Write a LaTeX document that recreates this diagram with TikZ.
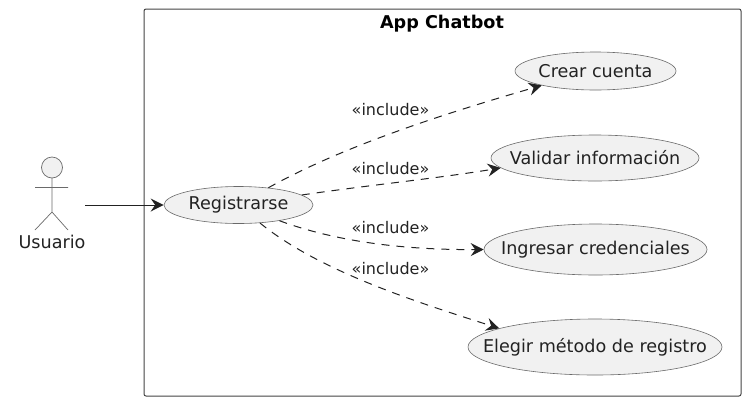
\documentclass[tikz,border=0pt]{standalone}
\usepackage{fontspec}
\setmainfont{DejaVu Sans}
\usepackage{xcolor}
\usetikzlibrary{arrows.meta,shapes.geometric}
\definecolor{usecasefill}{HTML}{F1F1F1}
\definecolor{linegray}{HTML}{6A6A6A}
\definecolor{textgray}{HTML}{222222}
\tikzset{
  usecase/.style={ellipse,draw=linegray,fill=usecasefill,line width=0.6pt,inner sep=0pt},
  usecasetext/.style={inner sep=0pt,text=textgray,font=\fontsize{17.6}{20}\selectfont},
  stereotype/.style={inner sep=0pt,text=textgray,font=\fontsize{16}{19}\selectfont},
  actorline/.style={draw=linegray,line width=0.7pt},
  assoc/.style={draw=textgray,line width=1pt,-{Stealth[length=13pt,width=13pt,inset=4.5pt]}},
  incl/.style={assoc,dash pattern=on 8pt off 7pt}
}
\begin{document}
\begin{tikzpicture}[x=1pt,y=-1pt]
\useasboundingbox (0,0) rectangle (746,405);
% Draw system box
\draw [draw=textgray!85!white, line width=1pt, rounded corners=2pt] (144,9) rectangle (741,396);
\node (title) [inner sep=0pt, font=\fontsize{17.6}{20}\selectfont\bfseries] at (442,23.5) {App Chatbot};

% Draw actor
\draw [actorline, fill=usecasefill] (52,167.5) circle (10.5);
\draw [actorline] (52,178) -- (52,212) (35,187.5) -- (68,187.5) (35,230) -- (52,212) -- (68,230);
\node (usuario) [usecasetext] at (52,242) {Usuario};
\coordinate (actorhand) at (85,205);

% Draw use cases
\node (registrarse) [usecase, minimum width=149, minimum height=37, label={[usecasetext]center:Registrarse}] at (238.5,205) {};
\node (crear) [usecase, minimum width=161, minimum height=38, label={[usecasetext]center:Crear cuenta}] at (595.5,71) {};
\node (validar) [usecase, minimum width=208, minimum height=46, label={[usecasetext]center:Validar información}] at (595,158) {};
\node (ingresar) [usecase, minimum width=223, minimum height=51, label={[usecasetext]center:Ingresar credenciales}] at (595.5,249.5) {};
\node (elegir) [usecase, minimum width=254, minimum height=56, label={[usecasetext]center:Elegir método de registro}] at (595,347) {};

% Draw connectors
\draw [assoc] (actorhand) -- (registrarse);
\draw [incl] (registrarse.30) .. controls (345,145) and (450,112) .. (crear.195);
\draw [incl] (registrarse.9) .. controls (370,185) and (440,178) .. (validar.186);
\draw [incl] (registrarse.-21) .. controls (340,243) and (410,250) .. (ingresar.180);
\draw [incl] (registrarse.-40) .. controls (320,272) and (420,303) .. (elegir.169);

% Draw stereotypes
\node (inclcrear) [stereotype] at (390.5,110) {«include»};
\node (inclvalidar) [stereotype] at (390.5,169) {«include»};
\node (inclingresar) [stereotype] at (390.5,228) {«include»};
\node (inclelegir) [stereotype] at (390.5,269) {«include»};
\end{tikzpicture}
\end{document}
